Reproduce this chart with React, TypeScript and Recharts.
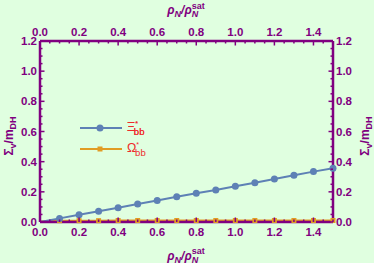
import React from 'react';
import { ComposedChart, Line, XAxis, YAxis, Legend } from 'recharts';

const rho = [0, 0.1, 0.2, 0.3, 0.4, 0.5, 0.6, 0.7, 0.8, 0.9, 1.0, 1.1, 1.2, 1.3, 1.4, 1.5];
const xiValues = [0, 0.024, 0.048, 0.071, 0.095, 0.119, 0.143, 0.167, 0.191, 0.212, 0.237, 0.26, 0.285, 0.31, 0.334, 0.356];
const omegaValues = [0.004, 0.009, 0.009, 0.009, 0.01, 0.01, 0.01, 0.01, 0.01, 0.01, 0.01, 0.01, 0.01, 0.01, 0.01, 0.01];

const xTicks = [0, 0.05, 0.1, 0.15, 0.2, 0.25, 0.3, 0.35, 0.4, 0.45, 0.5, 0.55, 0.6, 0.65, 0.7, 0.75, 0.8, 0.85, 0.9, 0.95, 1.0, 1.05, 1.1, 1.15, 1.2, 1.25, 1.3, 1.35, 1.4, 1.45, 1.5];
const yTicks = [0, 0.05, 0.1, 0.15, 0.2, 0.25, 0.3, 0.35, 0.4, 0.45, 0.5, 0.55, 0.6, 0.65, 0.7, 0.75, 0.8, 0.85, 0.9, 0.95, 1.0, 1.05, 1.1, 1.15, 1.2];

const seriesNames = ['Ξ', 'Ω'];
const seriesSup = ['*', '*'];
const seriesSub = ['bb', 'bb'];

const data = rho.map((r, i) => ({ rho: r, xi: xiValues[i], omega: omegaValues[i] }));

const PURPLE = '#800080';
const BLUE = '#5e81b5';
const ORANGE = '#e19c24';
const RED = '#ee2c2c';
const BG = '#e0ffe0';
const FONT = '"Liberation Sans", Arial, sans-serif';

const isMajor = (v: number) => Math.abs(v / 0.2 - Math.round(v / 0.2)) < 1e-6;

const makeTick = (orient: 'bottom' | 'top' | 'left' | 'right') => (props: any) => {
  const { x, y, payload } = props;
  const v = payload.value as number;
  const major = isMajor(v);
  const len = major ? 4.5 : 2.5;
  let line;
  let label = null;
  const txt = v.toFixed(1);
  const common = { fill: PURPLE, fontSize: 11.5, fontWeight: 'bold' as const, fontFamily: FONT };
  if (orient === 'bottom') {
    line = <line x1={x} y1={y} x2={x} y2={y - len} stroke={PURPLE} strokeWidth={1.5} />;
    if (major && v < 1.45) label = <text x={x} y={y + 14} textAnchor="middle" {...common}>{txt}</text>;
  } else if (orient === 'top') {
    line = <line x1={x} y1={y} x2={x} y2={y + len} stroke={PURPLE} strokeWidth={1.5} />;
    if (major && v < 1.45) label = <text x={x} y={y - 5} textAnchor="middle" {...common}>{txt}</text>;
  } else if (orient === 'left') {
    line = <line x1={x} y1={y} x2={x + len} y2={y} stroke={PURPLE} strokeWidth={1.5} />;
    if (major) label = <text x={x - 3} y={y + 4} textAnchor="end" {...common}>{txt}</text>;
  } else {
    line = <line x1={x} y1={y} x2={x - len} y2={y} stroke={PURPLE} strokeWidth={1.5} />;
    if (major) label = <text x={x + 3} y={y + 4} textAnchor="start" {...common}>{txt}</text>;
  }
  return (
    <g>
      {line}
      {label}
    </g>
  );
};

const XTitle = ({ cy }: { cy: number }) => (
  <text x={186} y={cy} textAnchor="middle" fill={PURPLE} fontFamily={FONT} fontWeight="bold" fontStyle="italic" fontSize={12}>
    ρ<tspan dy={3} fontSize={9}>N</tspan>
    <tspan dy={-3}>/ρ</tspan>
    <tspan dy={3} fontSize={9}>N</tspan>
    <tspan dx={-6.5} dy={-8.5} fontSize={9} fontStyle="normal">sat</tspan>
  </text>
);

const YTitle = ({ cx }: { cx: number }) => {
  const cy = 136;
  return (
    <text x={cx} y={cy} transform={`rotate(-90, ${cx}, ${cy})`} textAnchor="middle" fill={PURPLE} fontFamily={FONT} fontWeight="bold" fontSize={12}>
      Σ<tspan dy={3} fontSize={9}>v</tspan>
      <tspan dy={-3}>/m</tspan>
      <tspan dy={3} fontSize={9}>DH</tspan>
    </text>
  );
};

const XiDot = (props: any) => {
  const { cx, cy, index } = props;
  if (index === 0) return <g key={`xd${index}`} />;
  return <circle key={`xd${index}`} cx={cx} cy={cy} r={3.5} fill={BLUE} />;
};

const OmegaDot = (props: any) => {
  const { cx, cy, index } = props;
  if (index === 0) return <g key={`od${index}`} />;
  return <rect key={`od${index}`} x={cx - 2.5} y={cy - 2.5} width={5} height={5} fill={ORANGE} />;
};

const LegendContent = (props: any) => {
  const items = (props.payload || []).filter((p: any) => p.dataKey === 'xi' || p.dataKey === 'omega');
  return (
    <svg width={100} height={44} style={{ overflow: 'visible', display: 'block' }}>
      {items.map((p: any) => {
        const idx = p.dataKey === 'xi' ? 0 : 1;
        const y = 10 + idx * 21;
        const color = p.color;
        return (
          <g key={p.dataKey}>
            <line x1={2} y1={y} x2={44} y2={y} stroke={color} strokeWidth={2} />
            {idx === 0 ? (
              <circle cx={22} cy={y} r={3.5} fill={color} />
            ) : (
              <rect x={19.5} y={y - 2.5} width={5} height={5} fill={color} />
            )}
            <text x={49} y={y + 3} fill={RED} fontFamily={FONT} fontSize={12.5}>
              {seriesNames[idx]}
              <tspan dy={-5} fontSize={7}>{seriesSup[idx]}</tspan>
              <tspan dx={-4} dy={9} fontSize={9.5}>{seriesSub[idx]}</tspan>
            </text>
          </g>
        );
      })}
    </svg>
  );
};

export default function App() {
  return (
    <div style={{ position: 'absolute', left: 0, top: 0, width: 374, height: 263, background: BG }}>
      <ComposedChart width={374} height={263} data={data} margin={{ top: 0, right: 0, bottom: 0, left: 0 }}>
        <XAxis
          xAxisId="b"
          dataKey="rho"
          type="number"
          domain={[0, 1.5]}
          ticks={xTicks}
          interval={0}
          height={41}
          orientation="bottom"
          axisLine={{ stroke: PURPLE, strokeWidth: 2.5 }}
          tickLine={false}
          tickSize={0}
          tickMargin={0}
          tick={makeTick('bottom')}
          label={{ content: () => <XTitle cy={259.5} /> }}
        />
        <XAxis
          xAxisId="t"
          dataKey="rho"
          type="number"
          domain={[0, 1.5]}
          ticks={xTicks}
          interval={0}
          height={41}
          orientation="top"
          axisLine={{ stroke: PURPLE, strokeWidth: 2.5 }}
          tickLine={false}
          tickSize={0}
          tickMargin={0}
          tick={makeTick('top')}
          label={{ content: () => <XTitle cy={14} /> }}
        />
        <YAxis
          yAxisId="l"
          type="number"
          domain={[0, 1.2]}
          ticks={yTicks}
          interval={0}
          width={40}
          orientation="left"
          axisLine={{ stroke: PURPLE, strokeWidth: 2.5 }}
          tickLine={false}
          tickSize={0}
          tickMargin={0}
          tick={makeTick('left')}
          label={{ content: () => <YTitle cx={13} /> }}
        />
        <YAxis
          yAxisId="r"
          type="number"
          domain={[0, 1.2]}
          ticks={yTicks}
          interval={0}
          width={41}
          orientation="right"
          axisLine={{ stroke: PURPLE, strokeWidth: 2.5 }}
          tickLine={false}
          tickSize={0}
          tickMargin={0}
          tick={makeTick('right')}
          label={{ content: () => <YTitle cx={369} /> }}
        />
        <Line xAxisId="t" yAxisId="r" dataKey="xi" stroke="none" dot={false} activeDot={false} legendType="none" isAnimationActive={false} />
        <Line xAxisId="b" yAxisId="l" dataKey="omega" name="Ω" stroke={ORANGE} strokeWidth={2} dot={OmegaDot} activeDot={false} isAnimationActive={false} />
        <Line xAxisId="b" yAxisId="l" dataKey="xi" name="Ξ" stroke={BLUE} strokeWidth={2} dot={XiDot} activeDot={false} isAnimationActive={false} />
        <Legend
          layout="horizontal"
          verticalAlign="middle"
          align="center"
          content={LegendContent}
          wrapperStyle={{ position: 'absolute', left: 78, top: 118, width: 100, height: 44 }}
        />
      </ComposedChart>
    </div>
  );
}
